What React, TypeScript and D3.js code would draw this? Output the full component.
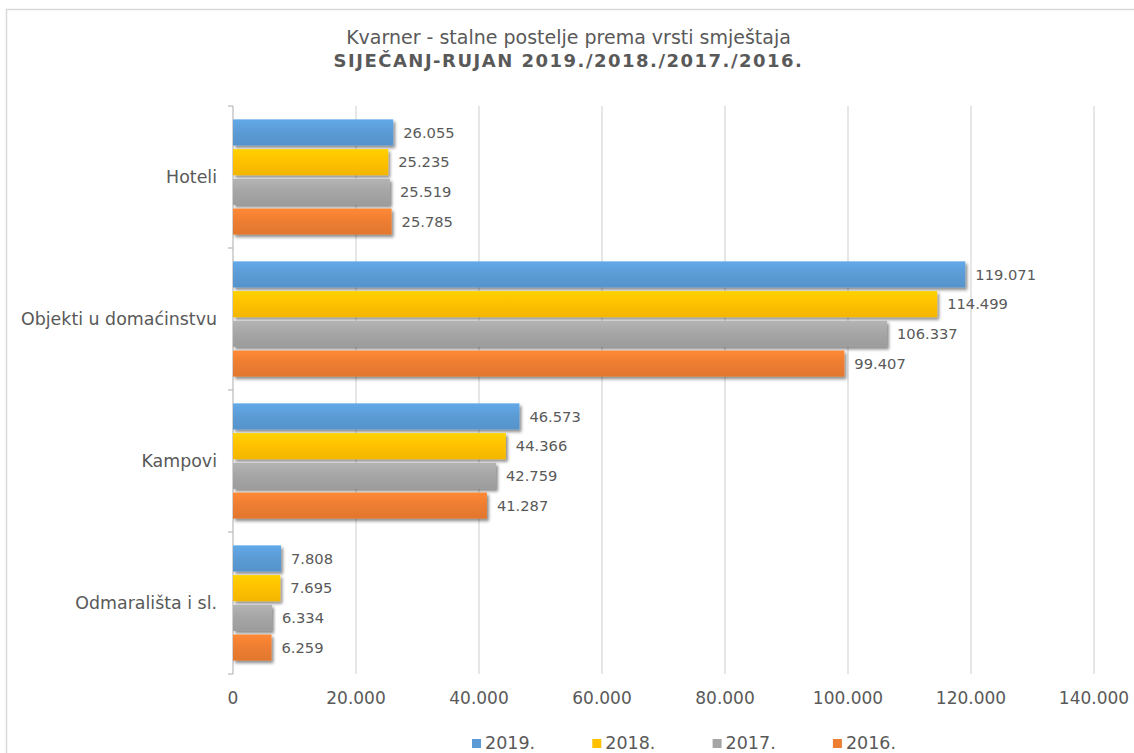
import React from "react";
import * as d3 from "d3";

const categories = ["Hoteli", "Objekti u domaćinstvu", "Kampovi", "Odmarališta i sl."];
const seriesNames = ["2019.", "2018.", "2017.", "2016."];
const seriesColors = ["#5B9BD5", "#FFC000", "#A5A5A5", "#ED7D31"];
const values2019 = [26055, 119071, 46573, 7808];
const values2018 = [25235, 114499, 44366, 7695];
const values2017 = [25519, 106337, 42759, 6334];
const values2016 = [25785, 99407, 41287, 6259];
const seriesValues = [values2019, values2018, values2017, values2016];
const xTicks = [0, 20000, 40000, 60000, 80000, 100000, 120000, 140000];
const titleLine1 = "Kvarner - stalne postelje prema vrsti smještaja";
const titleLine2 = "SIJEČANJ-RUJAN 2019./2018./2017./2016.";

const W = 1134;
const H = 753;
const plot = { left: 233, right: 1094, top: 106, bottom: 674 };
const FONT = "'DejaVu Sans', Verdana, sans-serif";
const TEXT = "#595959";

const locale = d3.formatLocale({ decimal: ",", thousands: ".", grouping: [3], currency: ["", ""] });
const fmt = locale.format(",d");

export default function App() {
  const x = d3.scaleLinear().domain([0, 140000]).range([plot.left, plot.right]);
  const y = d3.scaleBand<string>().domain(categories).range([plot.top, plot.bottom]);
  const inner = d3
    .scaleBand<string>()
    .domain(seriesNames)
    .range([0, y.bandwidth()])
    .paddingInner(0.12)
    .paddingOuter(0.45);

  const shade = (c: string, k: number) => {
    const col = d3.color(c)!;
    return k > 0 ? col.brighter(k).formatHex() : col.darker(-k).formatHex();
  };

  const boundaries = [plot.top, ...categories.map((c) => (y(c) as number) + y.bandwidth())];

  return (
    <svg
      width={W}
      height={H}
      style={{ position: "absolute", left: 0, top: 0, background: "#fff" }}
      fontFamily={FONT}
    >
      <defs>
        {seriesColors.map((c, i) => (
          <linearGradient key={i} id={`g${i}`} x1="0" y1="0" x2="0" y2="1">
            <stop offset="0" stopColor={shade(c, 0.25)} />
            <stop offset="0.5" stopColor={c} />
            <stop offset="1" stopColor={shade(c, -0.15)} />
          </linearGradient>
        ))}
        <filter id="shadow" x="-5%" y="-30%" width="115%" height="170%">
          <feDropShadow dx="2" dy="2.5" stdDeviation="1.6" floodColor="#000" floodOpacity="0.45" />
        </filter>
      </defs>
      <rect x={0} y={0} width={W} height={H} fill="#fff" />
      <rect x={6.5} y={9.5} width={W + 20} height={H + 20} fill="#fff" stroke="#d9d9d9" strokeWidth={1.5} />

      <text x={568.5} y={44} textAnchor="middle" fontSize={19} fill={TEXT}>
        {titleLine1}
      </text>
      <text
        x={568.5}
        y={66.5}
        textAnchor="middle"
        fontSize={18}
        letterSpacing={1.5}
        fontWeight="bold"
        fill={TEXT}
      >
        {titleLine2}
      </text>

      {xTicks.slice(1).map((t) => (
        <line key={t} x1={x(t)} x2={x(t)} y1={plot.top} y2={plot.bottom} stroke="#d9d9d9" strokeWidth={1.3} />
      ))}

      <line x1={plot.left} x2={plot.left} y1={plot.top} y2={plot.bottom} stroke="#bfbfbf" strokeWidth={1.3} />
      {boundaries.map((b, i) => (
        <line key={i} x1={plot.left - 5} x2={plot.left} y1={b} y2={b} stroke="#bfbfbf" strokeWidth={1.3} />
      ))}

      {categories.map((c, ci) => (
        <g key={c}>
          {seriesNames.map((s, si) => {
            const v = seriesValues[si][ci];
            const by = (y(c) as number) + (inner(s) as number);
            return (
              <g key={s}>
                <rect
                  x={x(0)}
                  y={by}
                  width={x(v) - x(0)}
                  height={inner.bandwidth()}
                  fill={`url(#g${si})`}
                  filter="url(#shadow)"
                />
                <text
                  x={x(v) + 10}
                  y={by + inner.bandwidth() / 2}
                  dy="0.35em"
                  fontSize={14.7}
                  fill={TEXT}
                >
                  {fmt(v)}
                </text>
              </g>
            );
          })}
          <text
            x={217}
            y={(y(c) as number) + y.bandwidth() / 2}
            dy="0.35em"
            textAnchor="end"
            fontSize={17.4}
            fill={TEXT}
          >
            {c}
          </text>
        </g>
      ))}

      {xTicks.map((t) => (
        <text key={t} x={x(t)} y={704} textAnchor="middle" fontSize={17} fill={TEXT}>
          {fmt(t)}
        </text>
      ))}

      {seriesNames.map((s, i) => (
        <g key={s} transform={`translate(${472 + i * 120.3},0)`}>
          <rect x={0} y={739} width={9} height={9} fill={seriesColors[i]} />
          <text x={13} y={749} fontSize={17.5} fill={TEXT}>
            {s}
          </text>
        </g>
      ))}
    </svg>
  );
}
